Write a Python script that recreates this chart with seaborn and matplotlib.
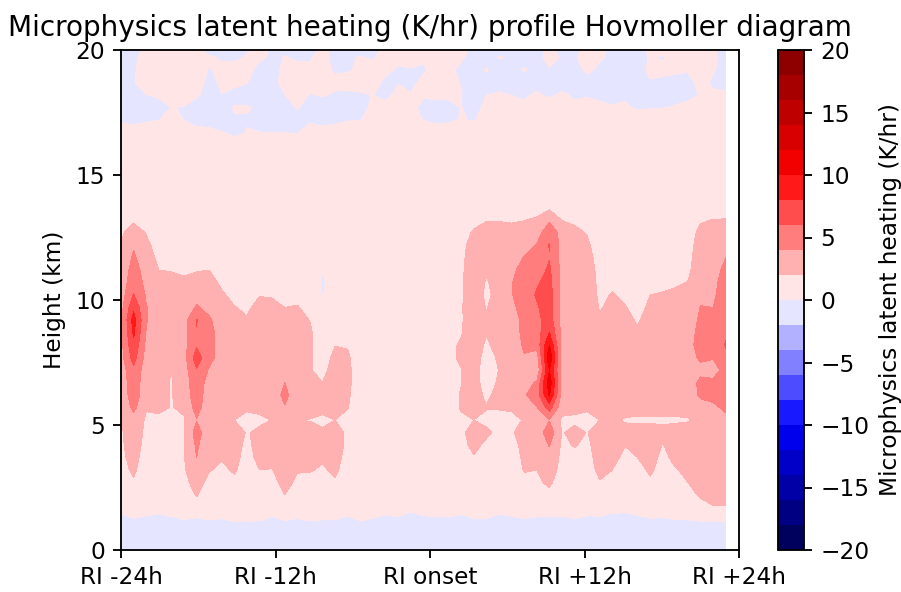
import numpy as np
import matplotlib
matplotlib.use("Agg")
import matplotlib.pyplot as plt
import seaborn as sns

title = "Microphysics latent heating (K/hr) profile Hovmoller diagram"
tick_labels = ["RI -24h", "RI -12h", "RI onset", "RI +12h", "RI +24h"]

# Height levels (km)
z_bottom = [0.0, 1.0, 1.3]
z_core = [1.7, 2.2, 2.7, 3.2, 3.7, 4.2, 4.7, 5.2, 5.7, 6.2, 6.7, 7.2, 7.7,
          8.2, 8.7, 9.2, 9.7, 10.2, 10.7, 11.2, 11.7, 12.2, 12.7, 13.2, 13.7]
z_top = [14.2, 16.2, 16.7, 17.2, 17.7, 18.2, 18.7, 19.2, 19.7, 20.0]

# Profiles of latent heating (K/hr) for each output time, on z_core
t00 = [.6,.8,1,1.4,1.6,1.7,1.8,1.9,2.0,2.5,2.7,2.9,3.3,3.4,3.5,3.5,3.3,3,2.7,2.5,2.3,2.1,1.7,1.2,.8]
t01 = [1,1.4,1.8,2.3,2.6,2.9,3.0,3.0,4.6,5.2,5.3,5.6,6.8,7.6,8.3,8.8,7.6,6.1,5.4,4.9,4.3,3.8,2.9,1.7,1]
t02 = [.7,.8,.9,1,1.2,1.4,1.6,1.8,2.1,2.7,2.7,2.9,3.2,3.5,3.9,4.1,4.1,3.8,3.4,3.1,2.8,2.4,1.9,1.4,.9]
t03 = [.6,.7,.8,.9,1,1.1,1.3,1.7,2.3,2.5,2.5,2.6,2.8,3,3.2,3.2,3,2.7,2.4,2,1.6,1.3,1.1,.9,.7]
t04 = [.6,.7,.8,.9,1,1.1,1.3,1.6,1.95,1.9,1.9,2.0,2.6,2.9,3.1,3.1,2.9,2.6,2.3,1.95,1.5,1.3,1.1,.9,.7]
t05 = [.9,1.2,1.5,1.8,1.9,1.95,2,1.9,2.2,3,3,3.1,3.3,3.4,3.4,3.2,2.9,2.6,2.2,1.8,1.4,1.2,1,.9,.7]
t06 = [1.4,2.1,2.7,3.2,4,4.3,4.8,3.9,4.8,5,5.2,5.9,7,5.7,5.9,6.1,4.2,3.4,2.6,1.9,1.4,1.2,1,.9,.7]
t07 = [.8,1.1,1.5,2.1,2.4,2.6,2.8,2.2,2.7,3,3.2,3.8,4.6,4.7,4.7,4.3,3.4,2.9,2.4,2.0,1.5,1.2,1,.9,.7]
t08 = [.7,.9,1.2,1.7,2.1,2.5,2.6,2.05,2.7,3,3.1,3.2,3.2,3.1,3,2.8,2.4,2.15,1.8,1.5,1.3,1.1,1,.8,.7]
t09 = [.7,1,1.6,2.2,2.4,2.5,2.6,2.0,2.6,3,3.1,3,2.9,2.7,2.5,2.3,2.05,1.7,1.4,1.2,1.1,1,.9,.8,.6]
t10 = [.6,.7,.9,1.2,1.5,1.7,1.9,1.6,2.2,2.8,3,2.9,2.7,2.5,2.3,2.1,1.8,1.5,1.3,1.1,1,.9,.8,.7,.6]
t11 = [.7,1,1.4,2.0,2.4,2.5,2.3,1.7,2.4,2.9,3,3,2.9,2.8,2.7,2.6,2.4,1.95,1.5,1.2,1,.9,.8,.7,.6]
t12 = [.8,1.1,1.5,1.95,2.4,2.6,2.6,2.05,2.6,3.1,3.2,3.2,3.1,3,2.8,2.6,2.3,1.9,1.5,1.2,1,.9,.8,.7,.6]
t13 = [1.1,2,2.5,2.9,3,3,3,2.4,3.9,4.4,4,3.4,3.2,3.1,2.9,2.5,2.0,1.6,1.3,1.1,1,.9,.8,.7,.6]
t14 = [.8,1.1,1.7,2.1,2.5,2.7,2.6,2.0,2.8,3.1,3.1,3.1,3.1,3,2.9,2.6,2.1,1.6,1.3,1.1,1,.9,.8,.7,.6]
t15 = [.7,1,1.6,2.1,2.5,2.6,2.4,1.95,2.6,3,2.8,2.1,2.2,2.3,2.3,1.95,1.5,1.2,1,.8,.8,.8,.7,.7,.6]
t16 = [.6,.8,1.2,1.8,2.2,2.3,2.2,1.7,2.4,2.3,2.0,1.5,1.1,.9,.7,.5,.2,-.05,-.15,.01,.2,.4,.5,.6,.6]
t17 = [.6,.9,1.8,2.3,2.5,2.6,2.4,2.0,2.5,2.7,2.8,2.8,2.5,1.95,1.3,.9,.7,.6,.5,.5,.5,.5,.5,.5,.5]
t18 = [.6,.7,.9,1.2,1.5,1.7,1.8,1.6,2.05,2.2,2.3,2.3,2.2,1.9,1.2,.8,.7,.6,.5,.5,.5,.5,.5,.5,.5]
t19 = [.6,.6,.7,.8,.9,1,1,1,1.1,1.2,1.2,1.2,1.1,.9,.7,.6,.5,.5,.5,.5,.5,.5,.5,.5,.5]
t20 = [.6,.6,.6,.7,.7,.8,.8,.8,.8,.8,.8,.8,.7,.7,.6,.5,.5,.5,.4,.4,.4,.4,.4,.4,.4]
t21 = [.6,.6,.6,.6,.7,.7,.7,.8,.7,.7,.7,.7,.7,.6,.6,.5,.5,.4,.4,.4,.4,.4,.4,.4,.4]
t22 = [.5,.6,.6,.6,.6,.7,.7,.7,.7,.7,.6,.6,.6,.6,.5,.5,.5,.4,.4,.4,.4,.4,.4,.4,.4]
t23 = [.5,.6,.6,.6,.6,.6,.7,.7,.7,.7,.7,.7,.6,.6,.6,.5,.5,.4,.4,.4,.4,.4,.4,.4,.4]
t24 = [.6,.6,.6,.6,.7,.7,.7,.8,.8,.8,.8,.8,.8,.7,.7,.6,.6,.5,.5,.4,.4,.4,.4,.4,.4]
t25 = [.6,.6,.6,.7,.7,.8,.9,.9,1,1.1,1.1,1.1,1.1,1,1,.8,.7,.7,.6,.6,.6,.5,.5,.5,.4]
t26 = [.6,.6,.6,.7,.8,.9,1,1.2,1.5,1.5,1.5,1.6,1.7,1.7,1.4,1.2,1,.9,.9,.9,.8,.8,.7,.6,.5]
t27 = [.6,.7,.9,1.1,1.3,1.5,1.7,1.8,2.1,2.1,1.95,1.95,2.2,2.15,1.9,1.8,1.8,1.7,1.7,1.7,1.6,1.5,1.3,.9,.6]
t28 = [.8,1,1.2,1.5,1.9,2.4,2.6,2.0,2.5,2.9,3.2,3.6,3.4,3.1,3,3.1,3.3,3.5,3.3,3,2.9,2.7,2.2,1.5,.8]
t29 = [.6,.7,.8,1,1.3,1.7,2.3,1.6,2.1,1.6,.7,-.05,.9,1.7,2.1,2.2,1.9,1.5,1.8,2.3,2.7,2.9,2.7,1.9,.9]
t30 = [.6,.7,.8,.9,1.1,1.3,1.6,1.6,2.1,2.6,2.4,2.1,2.4,2.7,2.9,3,2.9,2.8,2.9,3,3,3,2.7,1.9,.9]
t31 = [.6,.7,.9,1,1.2,1.4,1.9,1.6,2.2,2.6,2.8,2.9,3,3.2,3.2,3.3,3.6,3.9,3.9,3.7,3,2.6,2.3,1.9,.9]
t32 = [.8,1.1,1.6,2.1,2.3,2.5,2.4,2.1,2.8,3.8,3.3,3.5,3.9,4.2,4.4,4.4,4.7,5,5,4.5,4.1,3.2,2.7,1.95,1]
t33 = [1.0,1.3,1.7,2.0,2.3,2.6,2.8,2.6,3.9,5.0,4.2,2.6,3.0,4.7,5,5.4,5.8,6.2,5.8,5.2,4.7,4.1,3,2.3,1.1]
t34 = [1.2,1.6,2.3,3,3.5,4.1,5.2,3.9,6.9,10.2,11.2,9.9,11.6,10,8,7,7,6.8,6.6,6.3,5.9,6.1,5.5,3.7,1.6]
t35 = [.7,.9,1.1,1.3,1.5,1.7,1.9,1.7,2.7,3.2,3.3,3.3,3.3,3.3,3.3,3.4,3.4,3.4,3.4,3.4,3.3,3.3,3.1,1.95,.9]
t36 = [.7,.8,.9,1.1,1.6,2.1,2.4,1.7,2.4,2.8,2.6,1.95,2.6,3,3,3,3,3,3,3,2.9,2.8,2.4,1.7,.8]
t37 = [.7,.8,1,1.3,1.5,1.7,1.95,1.6,2.2,2.7,2.8,2.7,2.9,3,3,3,3,3,2.9,2.8,2.6,2.3,1.9,1.2,.7]
t38 = [.8,1,1.9,2.4,2.6,2.7,2.6,2.0,2.6,2.9,2.9,2.9,2.9,2.8,2.5,2.2,1.9,1.7,1.6,1.5,1.3,1.1,.9,.7,.6]
t39 = [.7,1,1.5,2.0,2.5,2.7,2.8,2.3,2.7,2.9,3,3,2.9,2.8,2.7,2.5,2.3,2.1,1.7,1.3,1.1,.9,.8,.7,.6]
t40 = [.6,.7,.9,1.2,1.6,2.05,2.5,1.85,2.6,2.9,3,3,2.9,2.8,2.6,2.4,2.1,1.7,1.3,1.1,1,.9,.8,.7,.6]
t41 = [.6,.8,1,1.4,2,2.4,2.6,1.75,2.6,2.9,3,3,2.9,2.6,2.2,1.85,1.5,1.2,1,.9,.8,.8,.7,.7,.6]
t42 = [.7,1,1.7,2.3,2.6,2.7,2.7,1.75,2.6,2.9,3,3,3,2.9,2.8,2.6,2.3,2.0,1.6,1.3,1.1,.9,.8,.7,.6]
t43 = [.6,.7,1,1.3,1.6,1.95,2.4,1.75,2.6,2.9,3,3,3,3,2.9,2.8,2.5,2.1,1.7,1.4,1.2,1,.8,.7,.6]
t44 = [.7,.9,1.4,1.9,2.4,2.6,2.7,1.75,2.6,3,3.1,3.1,3.1,3.1,3,2.9,2.7,2.3,1.8,1.5,1.3,1.1,.9,.8,.6]
t45 = [1.0,1.5,2,2.3,2.6,2.8,2.8,1.85,2.8,3.0,3.1,3.1,3.3,3.3,3.2,3.1,2.9,2.5,2.05,1.7,1.5,1.3,1.1,.9,.7]
t46 = [1.5,2.2,2.6,2.8,2.9,3,3,2.6,3.3,4.3,4.4,3.5,4.3,4.8,4.6,4.3,4.05,3.7,3.3,3,2.9,2.8,2.5,1.8,.9]
t47 = [1.9,2.5,2.8,2.9,3,3.1,3.1,2.9,3.6,4.6,4.5,3.0,4.2,3.95,4.7,4.5,4.0,3.7,3.6,3.4,3.2,3,2.7,2.05,1]
t48 = [1.9,2.6,2.9,3,3.1,3.2,3.3,3.5,4.4,4.9,5,4.9,5.5,6.2,5.7,5.4,5.2,5,4.7,4.4,4.0,3.3,2.9,2.1,1.1]

# Near-surface and upper-level rows across the 49 output times
row_z00 = [-.5] * 49
row_z10 = [-.4] * 49
row_z13 = [-.36,.04,-.16,-.36,-.06,.15,.01,.18,.08,.45,.38,.33,-.09,.25,.06,.33,.18,.18,-.14,.33,.04,-.24,-.05,-.6,-.14,
           -.06,-.03,-.27,.08,.08,-.27,-.09,.06,-.09,-.09,-.09,.06,-.14,-.12,-.48,-.55,-.16,.04,.01,.15,.18,.38,.45,.38]
row_z142 = [.5] * 49
row_z162 = [.5] * 49
row_z167 = [.5,.4,.5,.5,.5,.5,.3,.25,.05,-.25,.03,.02,.01,-.01,-.05,.45,.3,.4,.5,.5,.5,.5,.5,.5,.5,
            .5,.5,.5,.5,.5,.5,.5,.5,.5,.5,.5,.5,.5,.5,.5,.5,.5,.5,.5,.5,.5,.5,.5,.5]
row_z172 = [-.1,-.25,-.1,-.02,.3,-.02,-.3,-.4,-.5,-.05,-.05,-.5,-.5,-.5,-.5,-.15,-.3,-.2,-.05,-.02,.3,.3,.4,.4,-.02,
            -.2,-.15,.05,-.05,.3,.4,.4,.4,.4,.4,.4,.4,.4,.4,.4,.4,.4,.4,.4,.4,.4,.4,.4,.4]
row_z177 = [-.3,-.3,-.3,-.3,.02,-.03,-.3,-.3,-.3,.05,.05,-.1,-.02,-.3,.05,-.3,-.3,-.3,-.3,-.3,.2,.2,.3,.3,-.3,
            -.3,-.3,.02,-.3,.2,.3,.3,.15,.3,.3,.3,.15,.2,.1,.05,.1,-.1,-.05,-.03,.05,.1,.3,.3,.3]
row_z182 = [-.3,-.3,-.01,.1,.2,.2,.1,-.3,-.01,-.2,-.3,-.3,-.3,-.01,.3,-.05,.05,-.1,-.1,-.1,.02,-.2,.2,.05,.1,
            .2,.2,.02,-.3,-.01,.1,-.01,-.1,.1,-.1,.1,-.1,-.05,-.1,-.2,-.1,-.3,-.3,-.3,-.2,-.1,.02,.1,.1]
row_z187 = [-.3,-.03,.2,.3,.3,.3,.3,-.2,.1,.15,.02,-.3,-.3,.3,.3,.3,.3,.2,.2,.3,.3,-.2,-.03,-.2,.2,
            .3,.3,-.05,-.3,-.3,-.3,-.3,-.3,-.3,-.3,-.3,-.3,-.2,-.3,-.3,-.3,-.3,-.02,-.1,-.2,-.2,.2,-.1,-.2]
row_z192 = [-.3,-.05,.2,.3,.3,.3,.2,-.03,.1,.2,.2,-.2,-.3,.2,.1,.1,.2,-.1,-.05,.1,.2,.2,-.1,-.02,-.1,
            .2,.2,-.2,-.3,.05,-.2,-.2,.05,-.2,-.03,-.2,-.2,.1,-.1,-.2,-.3,-.1,.05,.1,.1,.05,.2,.05,-.2]
row_z197 = [-.3,-.1,.2,.2,.2,.2,.1,.05,-.05,-.1,.05,.1,-.1,.02,-.05,-.05,.2,-.2,-.05,.02,-.05,.2,.2,.1,.1,
            .2,.2,.1,-.2,-.2,.02,-.02,-.2,-.1,.1,-.03,-.05,.2,.05,-.1,-.2,-.1,.02,-.03,.1,.2,.2,.1,-.2]
row_z200 = [-.3,-.2,.1,.1,.1,.1,.05,-.1,-.2,-.2,-.05,.1,-.05,-.05,-.2,-.2,.1,-.1,-.1,-.1,-.1,.1,.1,-.03,.1,
            .1,.1,.1,-.1,-.2,-.2,-.2,-.2,-.1,.1,-.1,-.1,.1,.1,-.1,-.2,-.2,.1,.1,.1,.1,.1,.05,-.2]

core_profiles = [t00, t01, t02, t03, t04, t05, t06, t07, t08, t09,
                 t10, t11, t12, t13, t14, t15, t16, t17, t18, t19,
                 t20, t21, t22, t23, t24, t25, t26, t27, t28, t29,
                 t30, t31, t32, t33, t34, t35, t36, t37, t38, t39,
                 t40, t41, t42, t43, t44, t45, t46, t47, t48]

sns.set_style("ticks", {"axes.edgecolor": "black", "text.color": "black",
                        "xtick.color": "black", "ytick.color": "black",
                        "axes.labelcolor": "black"})
plt.rcParams["font.family"] = ["DejaVu Sans"]

heights = np.array(z_bottom + z_core + z_top)
grid = np.vstack([row_z00, row_z10, row_z13,
                  np.array(core_profiles).T,
                  row_z142, row_z162, row_z167, row_z172, row_z177,
                  row_z182, row_z187, row_z192, row_z197, row_z200])
time_index = np.arange(grid.shape[1])
levels = np.arange(-20, 22, 2)
cmap = sns.color_palette("seismic", as_cmap=True)

W, H = 901, 592
DPI = 167
fig = plt.figure(figsize=(W / DPI, H / DPI), dpi=DPI)
ax = fig.add_axes([121 / W, (H - 550) / H, 618 / W, 500 / H])
cax = fig.add_axes([778 / W, (H - 550) / H, 26 / W, 500 / H])

cf = ax.contourf(time_index, heights, grid, levels=levels, cmap=cmap,
                 vmin=-20, vmax=20)
ax.set_xlim(0, 49.05)
ax.set_ylim(0, 20)
ax.set_xticks(np.linspace(0, 49.05, 5))
ax.set_xticklabels(tick_labels)
ax.set_yticks([0, 5, 10, 15, 20])
ax.set_ylabel("Height (km)")
ax.set_title(title)

cb = fig.colorbar(cf, cax=cax, ticks=np.arange(-20, 25, 5))
cb.set_label("Microphysics latent heating (K/hr)")

fig.savefig("out.png", dpi=DPI)
